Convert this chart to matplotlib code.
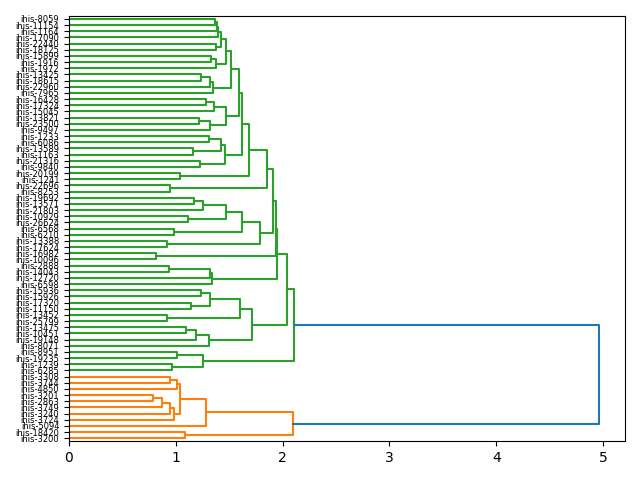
import matplotlib
matplotlib.use("Agg")
import matplotlib.pyplot as plt

# leaf labels, top to bottom as they appear in the chart
labels = [
    "ihis-8059", "ihis-11154", "ihis-1164", "ihis-17090", "ihis-22440",
    "ihis-18125", "ihis-15899", "ihis-1916", "ihis-1972", "ihis-13425",
    "ihis-18615", "ihis-22960", "ihis-7965", "ihis-16428", "ihis-17324",
    "ihis-15045", "ihis-13821", "ihis-23500", "ihis-9497", "ihis-1233",
    "ihis-6086", "ihis-13589", "ihis-1163", "ihis-21316", "ihis-9840",
    "ihis-20199", "ihis-1241", "ihis-22696", "ihis-8253", "ihis-19692",
    "ihis-13571", "ihis-21803", "ihis-10929", "ihis-26624", "ihis-6568",
    "ihis-6210", "ihis-13388", "ihis-17624", "ihis-16982", "ihis-10096",
    "ihis-2888", "ihis-14043", "ihis-12720", "ihis-6598", "ihis-15936",
    "ihis-15926", "ihis-17320", "ihis-11150", "ihis-13452", "ihis-25799",
    "ihis-13475", "ihis-10451", "ihis-19148", "ihis-8071", "ihis-8951",
    "ihis-19235", "ihis-1239", "ihis-6285", "ihis-3308", "ihis-3744",
    "ihis-4850", "ihis-3201", "ihis-2863", "ihis-3749", "ihis-3240",
    "ihis-3724", "ihis-5094", "ihis-18420", "ihis-3200",
]

# merges: (a, b, height); ints are leaf indices, "mK" is the K-th merge
merges = [
    (0, 1, 1.367), ("m0", 2, 1.383), ("m1", 3, 1.395), (4, 5, 1.38),
    ("m2", "m3", 1.42), (6, 7, 1.33), ("m5", 8, 1.38), ("m4", "m6", 1.467),
    (9, 10, 1.234), ("m8", 11, 1.32), ("m9", 12, 1.35), ("m7", "m10", 1.52),
    (13, 14, 1.28), ("m12", 15, 1.36), (16, 17, 1.218), ("m14", 18, 1.32),
    ("m13", "m15", 1.47), ("m11", "m16", 1.59),
    (19, 20, 1.31), (21, 22, 1.16), ("m18", "m19", 1.42), (23, 24, 1.224),
    ("m20", "m21", 1.458), ("m17", "m22", 1.62),
    (25, 26, 1.04), ("m23", "m24", 1.685), (27, 28, 0.95), ("m25", "m26", 1.85),
    (29, 30, 1.17), ("m28", 31, 1.255), (32, 33, 1.115), ("m29", "m30", 1.47),
    (34, 35, 0.985), ("m31", "m32", 1.62), (36, 37, 0.916), ("m33", "m34", 1.785),
    ("m27", "m35", 1.91), (38, 39, 0.813), ("m36", "m37", 1.935),
    (40, 41, 0.937), ("m39", 42, 1.32), ("m40", 43, 1.336), ("m38", "m41", 1.95),
    (44, 45, 1.234), (46, 47, 1.14), ("m43", "m44", 1.32), (48, 49, 0.92),
    ("m45", "m46", 1.6), (50, 51, 1.094), ("m48", 52, 1.187), ("m49", 53, 1.311),
    ("m47", "m50", 1.71), ("m42", "m51", 2.04),
    (54, 55, 1.01), (56, 57, 0.96), ("m53", "m54", 1.255), ("m52", "m55", 2.11),
    (58, 59, 0.944), ("m57", 60, 1.01), (61, 62, 0.79), ("m59", 63, 0.875),
    ("m60", 64, 0.944), ("m61", 65, 0.985), ("m58", "m62", 1.037),
    ("m63", 66, 1.28), (67, 68, 1.087), ("m64", "m65", 2.096),
    ("m56", "m66", 4.958),
]

n = len(labels)
first_orange = 58
max_h = max(m[2] for m in merges)
threshold = 0.7 * max_h

# node -> (y, height, members)
pos = {i: (10 * (n - 1 - i) + 5, 0.0, {i}) for i in range(n)}

fig, ax = plt.subplots(figsize=(6.4, 4.8), dpi=100)
for k, (a, b, h) in enumerate(merges):
    ya, ha, ma = pos[a]
    yb, hb, mb = pos[b]
    members = ma | mb
    if h >= threshold:
        col = "C0"
    elif min(members) >= first_orange:
        col = "C1"
    else:
        col = "C2"
    ax.plot([ha, h, h, hb], [ya, ya, yb, yb], color=col, lw=1.5)
    pos["m%d" % k] = ((ya + yb) / 2, h, members)

ax.set_yticks([10 * (n - 1 - i) + 5 for i in range(n)])
ax.set_yticklabels(labels, fontsize=6)
ax.set_ylim(0, 10 * n)
ax.set_xlim(0, max_h * 1.05)

plt.tight_layout()
plt.savefig("out.png")
